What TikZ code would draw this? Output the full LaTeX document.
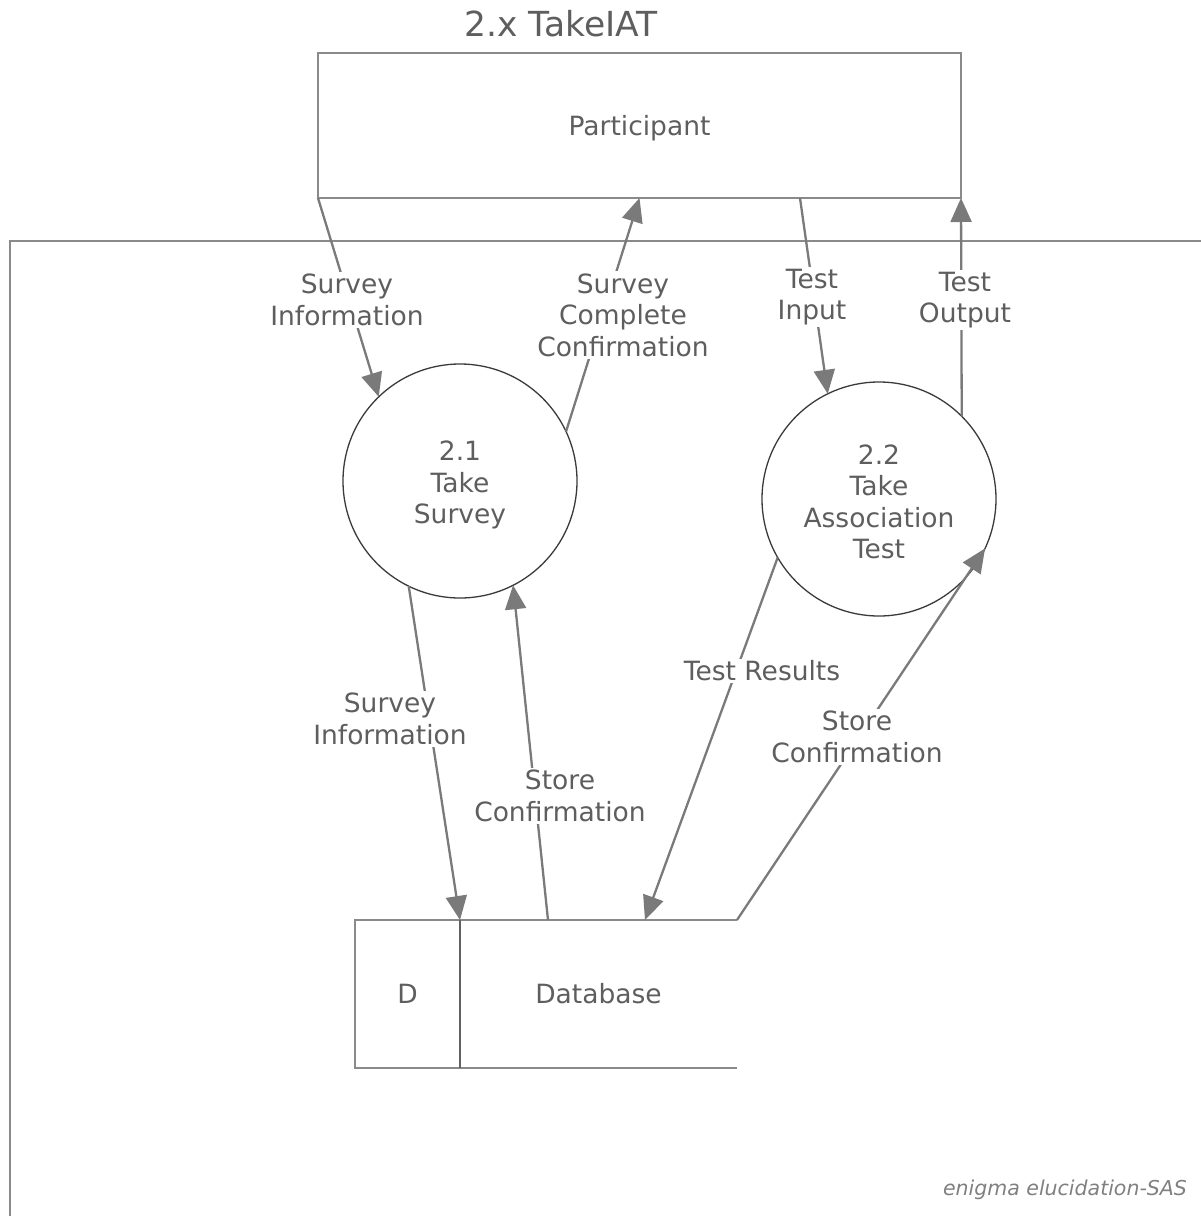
\documentclass[tikz,border=0pt]{standalone}
\usepackage{fontspec}
\setmainfont{DejaVu Sans}
\usetikzlibrary{arrows.meta}
\definecolor{txt}{HTML}{5E5E5E}
\definecolor{flow}{HTML}{7A7A7A}
\definecolor{edge}{HTML}{8A8A8A}
\definecolor{ring}{HTML}{3A3A3A}

\begin{document}
\begin{tikzpicture}[x=1pt,y=-1pt,
  every node/.style={font=\fontsize{26.5}{31.5}\selectfont, text=txt, align=center, outer sep=0pt},
  entity/.style={draw=edge, line width=2pt, minimum width=643pt, minimum height=145pt, inner sep=0pt},
  process/.style={circle, draw=ring, line width=1.3pt, minimum size=234pt, inner sep=0pt},
  storecell/.style={inner sep=0pt, minimum height=148pt},
  storeline/.style={draw=edge, line width=2pt},
  flowarrow/.style={draw=flow, line width=2.3pt, -{Triangle[length=24pt,width=21pt]}},
  flowlabel/.style={fill=white, inner sep=2pt},
  boundary/.style={draw=edge, line width=2pt}]

\useasboundingbox (0,0) rectangle (1201,1216);

% title and system boundary
\node[font=\fontsize{34.5}{40}\selectfont] (title) at (561,24) {2.x TakeIAT};
\draw[boundary] (10,1216) -- (10,241) -- (1201,241);

% external entity
\node[entity, label={[name=ptext, yshift=-3pt]center:Participant}] (p) at (639.5,125.5) {};

% processes
\node[process, label={[name=s1text, yshift=-4pt]center:2.1\\Take\\Survey}] (s1) at (460,481) {};
\node[process, label={[name=s2text, yshift=-3pt]center:2.2\\Take\\Association\\Test}] (s2) at (879,499) {};

% data store
\node[storecell, minimum width=105pt] (dbD) at (407.5,994) {D};
\node[storecell, minimum width=277pt] (db) at (598.5,994) {Database};
\draw[storeline] (db.north east) -- (dbD.north west) -- (dbD.south west) -- (db.south east);
\draw[storeline, draw=ring!80] (dbD.north east) -- (dbD.south east);

% data flows
\draw[flowarrow] (p.south west) -- (s1.134);
\draw[flowarrow] (s1.25) -- (p.south);
\draw[flowarrow] ([xshift=160.5pt]p.south) -- (s2.116);
\draw[flowarrow] (s2.45) -- (p.south east);
\draw[flowarrow] (s1.244) -- (db.north west);
\draw[flowarrow] ([xshift=88pt]db.north west) -- (s1.297);
\draw[flowarrow] (s2.210) -- ([xshift=185pt]db.north west);
\draw[flowarrow] (db.north east) -- (s2.-25);

% flow labels
\node[flowlabel] (l1) at (347,300) {Survey\\Information};
\node[flowlabel] (l2) at (623,315) {Survey\\Complete\\Confirmation};
\node[flowlabel] (l3) at (812,297) {Test\\Input};
\node[flowlabel] (l4) at (965,300) {Test\\Output};
\node[flowlabel] (l5) at (390,719) {Survey\\Information};
\node[flowlabel] (l6) at (560,796) {Store\\Confirmation};
\node[flowlabel] (l7) at (762,671) {Test Results};
\node[flowlabel] (l8) at (857,737) {Store\\Confirmation};

% credit line
\node[font=\fontsize{20.5}{24}\selectfont\itshape, text=gray] (credit) at (1065,1190) {enigma elucidation-SAS};
\end{tikzpicture}
\end{document}
